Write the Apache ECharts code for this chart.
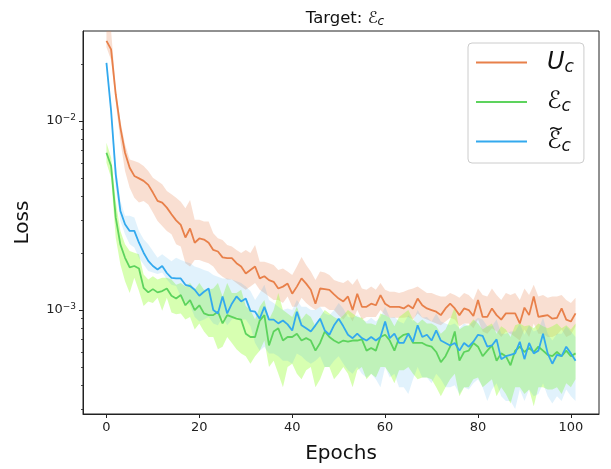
<!DOCTYPE html>
<html>
<head>
<meta charset="utf-8">
<script src="https://cdn.jsdelivr.net/npm/echarts@6/dist/echarts.min.js"></script>
<style>html,body{margin:0;padding:0;background:#fff}#c{width:611px;height:469px}</style>
</head>
<body>
<div id="c"></div>
<script>
const epochs = Array.from({length: 102}, (_, i) => i);
const xTicks = [0, 20, 40, 60, 80, 100];
const yMajorTicks = [0.001, 0.01];
const yMinorTicks = [0.0003,0.0004,0.0005,0.0006,0.0007,0.0008,0.0009,0.002,0.003,0.004,0.005,0.006,0.007,0.008,0.009,0.02];
const yMin = 0.000282, yMax = 0.0299;

// U_c (orange)
const uc = [0.0265,0.0239,0.0138,0.00922,0.00679,0.00566,0.00512,0.00497,0.00482,0.00459,
0.00418,0.00378,0.00370,0.00348,0.00321,0.00298,0.00282,0.00242,0.00270,0.00227,
0.00239,0.00236,0.00227,0.00208,0.00204,0.00190,0.00188,0.00188,0.00177,0.00170,
0.00156,0.00163,0.00170,0.00147,0.00151,0.00144,0.00141,0.00130,0.00133,0.00138,
0.00122,0.00133,0.00147,0.00138,0.00128,0.00108,0.00130,0.00129,0.00128,0.00121,
0.00115,0.00111,0.00118,0.00100,0.00122,0.00104,0.00104,0.00108,0.00106,0.00120,
0.00108,0.00104,0.00104,0.00104,0.00102,0.00106,0.00102,0.00115,0.00106,0.00102,
0.00100,0.00098,0.00094,0.00102,0.00108,0.00102,0.00094,0.00102,0.00100,0.00093,
0.00113,0.00092,0.00092,0.00102,0.00094,0.00089,0.00096,0.00096,0.00096,0.00085,
0.00103,0.00094,0.00118,0.00092,0.00093,0.00094,0.00090,0.00091,0.00102,0.00089,
0.00087,0.00096];
const ucHi = [0.034,0.030,0.0147,0.00999,0.00752,0.00626,0.00614,0.00602,0.00578,0.00544,
0.00501,0.00481,0.00462,0.00426,0.00409,0.00393,0.00374,0.00345,0.00382,0.0030,
0.0030,0.00294,0.00294,0.00255,0.0024,0.00235,0.00221,0.00217,0.00208,0.0020,
0.00208,0.00200,0.00221,0.00180,0.00180,0.00177,0.00173,0.00163,0.00166,0.00160,
0.00153,0.00170,0.00191,0.00173,0.00160,0.00144,0.00160,0.00158,0.00153,0.00144,
0.00141,0.00139,0.00144,0.00136,0.00147,0.00130,0.00128,0.00133,0.00128,0.00139,
0.00128,0.00125,0.00125,0.00123,0.00125,0.00128,0.00130,0.00133,0.00128,0.00123,
0.00123,0.00120,0.00118,0.00118,0.00123,0.00120,0.00116,0.00123,0.00120,0.00113,
0.00130,0.00120,0.00118,0.00130,0.00120,0.00113,0.00123,0.00120,0.00123,0.00113,
0.00130,0.00120,0.00136,0.00118,0.00120,0.00116,0.00118,0.00118,0.00120,0.00113,
0.00109,0.00116];
const ucLo = [0.0245,0.021,0.0125,0.00784,0.00544,0.00444,0.00393,0.0037,0.00377,0.00362,
0.00328,0.00296,0.00278,0.00262,0.00252,0.00223,0.00217,0.00177,0.0017,0.00184,
0.00184,0.0018,0.00177,0.0017,0.00157,0.0015,0.00145,0.00145,0.00139,0.00133,
0.00128,0.00133,0.00139,0.00128,0.00123,0.00118,0.00113,0.00113,0.00109,0.00118,
0.00104,0.00104,0.00116,0.00109,0.00104,0.00100,0.00104,0.00104,0.00100,0.00100,
0.00094,0.00089,0.00096,0.00087,0.00100,0.00089,0.00092,0.00092,0.00092,0.00100,
0.00094,0.00091,0.00091,0.00091,0.00091,0.00092,0.00089,0.00096,0.00091,0.00089,
0.00087,0.00085,0.00083,0.00087,0.00091,0.00089,0.00082,0.00085,0.00085,0.00080,
0.00089,0.00077,0.00075,0.00080,0.00077,0.00072,0.00077,0.00075,0.00072,0.00069,
0.00079,0.00072,0.00085,0.00075,0.00075,0.00072,0.00072,0.00074,0.00079,0.00072,
0.00074,0.00082];

// E_c (green)
const ec = [0.00679,0.00578,0.00308,0.00222,0.00189,0.00168,0.00171,0.00166,0.00131,0.00124,
0.00129,0.00124,0.00126,0.00130,0.00119,0.00115,0.00120,0.00106,0.00113,0.00100,
0.00106,0.00096,0.00094,0.00094,0.00098,0.00085,0.00094,0.00092,0.00090,0.00089,
0.00075,0.00072,0.00072,0.00088,0.00094,0.00065,0.00077,0.00080,0.00069,0.00072,
0.00072,0.00075,0.00069,0.00071,0.00069,0.00061,0.00067,0.00077,0.00072,0.00069,
0.00067,0.00069,0.00068,0.00069,0.00069,0.00070,0.00061,0.00063,0.00061,0.00072,
0.00074,0.00069,0.00061,0.00071,0.00074,0.00075,0.00067,0.00067,0.00067,0.00065,
0.00064,0.00060,0.00053,0.00057,0.00064,0.00077,0.00054,0.00060,0.00061,0.00067,
0.00064,0.00057,0.00061,0.00065,0.00054,0.00059,0.00057,0.00051,0.00061,0.00064,
0.00060,0.00063,0.00060,0.00064,0.00061,0.00058,0.00057,0.00060,0.00057,0.00061,
0.00057,0.00059];
const ecHi = [0.00767,0.0064,0.00377,0.00262,0.00223,0.00205,0.00201,0.00197,0.00154,0.00145,
0.00151,0.00145,0.00148,0.00148,0.00145,0.00136,0.00139,0.00133,0.00139,0.00128,
0.00139,0.00128,0.00128,0.0013,0.00139,0.00118,0.00139,0.00123,0.00123,0.00128,
0.00105,0.00100,0.00089,0.00104,0.00113,0.00089,0.00100,0.00123,0.00100,0.00096,
0.00092,0.00104,0.00089,0.00096,0.00092,0.00082,0.00092,0.00100,0.00096,0.00092,
0.00089,0.00094,0.00100,0.00096,0.00092,0.00091,0.00085,0.00085,0.00083,0.00096,
0.00094,0.00091,0.00082,0.00092,0.00096,0.00100,0.00089,0.00085,0.00089,0.00085,
0.00085,0.00082,0.00075,0.00079,0.00089,0.00104,0.00079,0.00082,0.00083,0.00089,
0.00085,0.00079,0.00082,0.00085,0.00075,0.00082,0.00079,0.00072,0.00083,0.00085,
0.00082,0.00083,0.00080,0.00085,0.00082,0.00080,0.00082,0.00085,0.00080,0.00083,
0.00079,0.00085];
const ecLo = [0.00602,0.00501,0.00241,0.00174,0.00142,0.00123,0.00148,0.00126,0.00105,0.00111,
0.00109,0.00116,0.00099,0.00116,0.00097,0.00095,0.00096,0.00089,0.00092,0.00079,
0.00085,0.00077,0.00072,0.00072,0.00062,0.00064,0.00072,0.00067,0.00062,0.00059,
0.00057,0.00052,0.00057,0.00061,0.00069,0.00050,0.00054,0.00046,0.00039,0.00050,
0.00052,0.00046,0.00043,0.00048,0.00050,0.00039,0.00043,0.00050,0.00050,0.00043,
0.00046,0.00050,0.00046,0.00039,0.00048,0.00050,0.00043,0.00046,0.00044,0.00050,
0.00050,0.00046,0.00041,0.00048,0.00048,0.00050,0.00046,0.00043,0.00044,0.00044,
0.00043,0.00039,0.00035,0.00039,0.00043,0.00046,0.00035,0.00039,0.00039,0.00043,
0.00044,0.00039,0.00041,0.00043,0.00035,0.00039,0.00036,0.00032,0.00039,0.00039,
0.00036,0.00038,0.00031,0.00039,0.00039,0.00038,0.00038,0.00039,0.00036,0.00041,
0.00039,0.00043];

// E~_c (blue)
const etc = [0.0203,0.0113,0.00522,0.00334,0.00284,0.00262,0.00262,0.00227,0.00201,0.00182,
0.00171,0.00164,0.00171,0.00157,0.00148,0.00147,0.00147,0.00136,0.00134,0.00128,
0.00119,0.00125,0.00130,0.00100,0.00096,0.00118,0.00096,0.00108,0.00118,0.00111,
0.00115,0.00099,0.00098,0.00090,0.00104,0.00089,0.00089,0.00085,0.00088,0.00084,
0.00078,0.00098,0.00083,0.00080,0.00077,0.00083,0.00090,0.00078,0.00074,0.00083,
0.00090,0.00082,0.00074,0.00071,0.00075,0.00071,0.00069,0.00072,0.00069,0.00072,
0.00087,0.00071,0.00075,0.00067,0.00067,0.00075,0.00068,0.00083,0.00072,0.00074,
0.00069,0.00078,0.00069,0.00067,0.00065,0.00067,0.00061,0.00067,0.00064,0.00068,
0.00074,0.00073,0.00064,0.00065,0.00070,0.00055,0.00057,0.00058,0.00059,0.00068,
0.00055,0.00067,0.00059,0.00061,0.00075,0.00059,0.00052,0.00058,0.00057,0.00064,
0.00059,0.00054];
const etcHi = [0.0211,0.0120,0.0059,0.00377,0.00315,0.00315,0.00309,0.00262,0.00237,0.00223,
0.00205,0.00189,0.00197,0.00189,0.00181,0.00189,0.00184,0.0018,0.00177,0.0017,
0.00167,0.00163,0.0016,0.00153,0.0015,0.00147,0.00147,0.00145,0.00142,0.00139,
0.00133,0.00126,0.00113,0.00123,0.00136,0.00113,0.00109,0.00104,0.00100,0.00102,
0.00100,0.00113,0.00104,0.00104,0.00100,0.00100,0.00104,0.00096,0.00094,0.00100,
0.00109,0.00102,0.00092,0.00091,0.00094,0.00089,0.00087,0.00091,0.00087,0.00092,
0.00104,0.00091,0.00092,0.00087,0.00085,0.00094,0.00087,0.00100,0.00091,0.00092,
0.00087,0.00096,0.00087,0.00085,0.00083,0.00085,0.00080,0.00085,0.00082,0.00087,
0.00091,0.00089,0.00082,0.00082,0.00089,0.00075,0.00075,0.00077,0.00077,0.00085,
0.00074,0.00083,0.00077,0.00079,0.00091,0.00075,0.00069,0.00075,0.00075,0.00082,
0.00077,0.00072];
const etcLo = [0.0195,0.0106,0.00444,0.00296,0.00252,0.00223,0.00214,0.00189,0.00174,0.00161,
0.00158,0.00155,0.00158,0.00145,0.00136,0.00134,0.00118,0.00111,0.00106,0.00092,
0.00087,0.00089,0.00092,0.00085,0.00083,0.00092,0.00083,0.00089,0.00092,0.00089,
0.00089,0.00082,0.00067,0.00061,0.00064,0.00059,0.00059,0.00057,0.00054,0.00054,
0.00052,0.00059,0.00057,0.00054,0.00052,0.00054,0.00057,0.00050,0.00050,0.00054,
0.00057,0.00052,0.00048,0.00046,0.00050,0.00046,0.00044,0.00046,0.00043,0.00039,
0.00050,0.00044,0.00046,0.00039,0.00039,0.00036,0.00043,0.00050,0.00044,0.00044,
0.00041,0.00046,0.00043,0.00039,0.00039,0.00040,0.00036,0.00039,0.00038,0.00041,
0.00043,0.00039,0.00033,0.00038,0.00041,0.00035,0.00033,0.00033,0.00030,0.00038,
0.00033,0.00038,0.00035,0.00036,0.00041,0.00035,0.00032,0.00035,0.00033,0.00038,
0.00035,0.00033];

const C_OR = '#E8804A', C_GR = '#5DD35D', C_BL = '#33A9EE';
const F_OR = 'rgba(232,128,74,0.25)', F_GR = 'rgba(160,255,70,0.42)', F_BL = 'rgba(51,169,238,0.15)';
const FONT = 'DejaVu Sans';

function band(hi, lo, fill) {
  return {
    type: 'custom', silent: true, clip: true, z: 1,
    xAxisIndex: 0, yAxisIndex: 0,
    data: epochs.map((e, i) => [e, lo[i], hi[i]]),
    encode: {x: 0, y: [1, 2]},
    renderItem: function (params, api) {
      if (params.dataIndex !== 0) return null;
      const pts = [];
      for (let i = 0; i < epochs.length; i++) pts.push(api.coord([epochs[i], hi[i]]));
      for (let i = epochs.length - 1; i >= 0; i--) pts.push(api.coord([epochs[i], lo[i]]));
      return {type: 'polygon', shape: {points: pts}, style: {fill: fill, stroke: null}};
    }
  };
}
function line(name, vals, color) {
  return {
    type: 'line', name: name, z: 3, xAxisIndex: 0, yAxisIndex: 0,
    data: epochs.map((e, i) => [e, vals[i]]),
    symbol: 'none', showSymbol: false, clip: true,
    lineStyle: {color: color, width: 1.8},
    itemStyle: {color: color}
  };
}

const names = ['Uc', 'Ec', 'Etc'];
const legendText = {
  Uc: '{i|U}{s|c}',
  Ec: '{e|\u2130}{s|c}',
  Etc: '{e|\u2130}{s|c}'
};

const log10 = Math.log10;
const chart = echarts.init(document.getElementById('c'), null, {renderer: 'canvas'});
chart.setOption({
  animation: false,
  backgroundColor: '#ffffff',
  textStyle: {fontFamily: FONT},
  title: {
    text: '{t|Target: }{e|\u2130}{s|c}',
    left: 340, top: 4, textAlign: 'center',
    textStyle: {
      fontFamily: FONT, fontWeight: 'normal',
      rich: {
        t: {fontSize: 16.5, color: '#111', fontFamily: FONT, fontWeight: 'normal'},
        e: {fontSize: 16.5, color: '#111', fontFamily: FONT, fontWeight: 'normal'},
        s: {fontSize: 12, color: '#111', fontFamily: FONT, fontWeight: 'normal', fontStyle: 'italic', padding: [7, 0, 0, 0]}
      }
    }
  },
  grid: {left: 83, right: 12, top: 31, bottom: 55, show: true, borderColor: '#222', borderWidth: 1, backgroundColor: 'transparent'},
  legend: {
    data: names, orient: 'vertical', left: 468, top: 43,
    icon: 'rect', itemWidth: 51, itemHeight: 2, itemGap: 12.5,
    padding: [6, 10, 8, 8],
    backgroundColor: 'rgba(255,255,255,0.8)', borderColor: '#cccccc', borderWidth: 1, borderRadius: 4,
    selectedMode: false,
    formatter: n => legendText[n],
    textStyle: {
      fontFamily: FONT,
      rich: {
        i: {fontSize: 24, fontStyle: 'italic', color: '#111', padding: [0, 0, 0, 15], lineHeight: 30, fontFamily: FONT},
        e: {fontSize: 24, color: '#111', padding: [0, 0, 0, 15], lineHeight: 30, fontFamily: FONT},
        s: {fontSize: 17, fontStyle: 'italic', color: '#111', padding: [10, 0, 0, 0], lineHeight: 30, fontFamily: FONT}
      }
    }
  },
  graphic: [{
    type: 'text', x: 556, y: 130, z: 200,
    style: {text: '~', fontSize: 19, fontFamily: FONT, fill: '#111', align: 'center', verticalAlign: 'middle'}
  }],
  xAxis: {
    type: 'value', min: -5.05, max: 106.05,
    name: 'Epochs', nameLocation: 'middle', nameGap: 30,
    nameTextStyle: {fontSize: 20, color: '#111', fontFamily: FONT},
    axisLine: {show: true, onZero: false, lineStyle: {color: '#222', width: 1}},
    axisTick: {show: true, length: 4, customValues: xTicks, lineStyle: {color: '#222'}},
    axisLabel: {customValues: xTicks, fontSize: 13, color: '#222', margin: 7, fontFamily: FONT},
    splitLine: {show: false}
  },
  yAxis: [
    {
      type: 'log', logBase: 10, min: yMin, max: yMax, position: 'left',
      axisLine: {show: false}, axisTick: {show: false}, axisLabel: {show: false}, splitLine: {show: false}
    },
    {
      type: 'value', min: log10(yMin), max: log10(yMax), position: 'left', offset: 0,
      name: 'Loss', nameLocation: 'middle', nameGap: 50,
      nameTextStyle: {fontSize: 20, color: '#111', fontFamily: FONT},
      axisLine: {show: true, onZero: false, lineStyle: {color: '#222', width: 1}},
      axisTick: {show: true, length: 4, customValues: yMajorTicks.map(log10), lineStyle: {color: '#222'}},
      axisLabel: {
        customValues: yMajorTicks.map(log10), margin: 7, color: '#222',
        formatter: v => '{b|10}{s|\u2212' + Math.round(-v) + '}',
        rich: {
          b: {fontSize: 13, color: '#222', fontFamily: FONT},
          s: {fontSize: 9, color: '#222', fontFamily: FONT, padding: [0, 0, 7, 0]}
        }
      },
      splitLine: {show: false}
    },
    {
      type: 'value', min: log10(yMin), max: log10(yMax), position: 'left', offset: 0,
      axisLine: {show: false},
      axisTick: {show: true, length: 2, customValues: yMinorTicks.map(log10), lineStyle: {color: '#222', width: 0.8}},
      axisLabel: {show: false},
      splitLine: {show: false}
    }
  ],
  series: [
    band(ucHi, ucLo, F_OR),
    band(ecHi, ecLo, F_GR),
    band(etcHi, etcLo, F_BL),
    line('Uc', uc, C_OR),
    line('Ec', ec, C_GR),
    line('Etc', etc, C_BL)
  ]
});
</script>
</body>
</html>
